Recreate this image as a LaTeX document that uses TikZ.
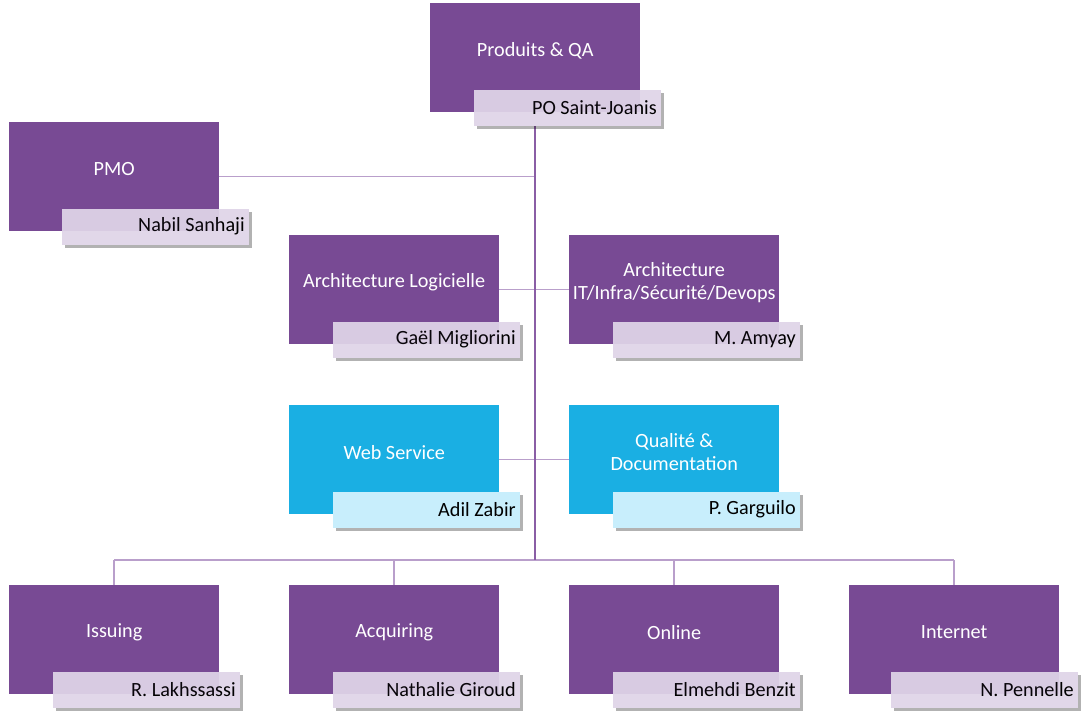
\documentclass[tikz,border=0pt]{standalone}
\usepackage{fontspec}
\setmainfont{Carlito}
\usetikzlibrary{calc,shadows,backgrounds}
\definecolor{pbox}{HTML}{784A94}
\definecolor{pname}{HTML}{E1D7E9}
\definecolor{bbox}{HTML}{1AAFE3}
\definecolor{bname}{HTML}{C8EEFC}
\definecolor{vline}{HTML}{8A5EA5}
\definecolor{hline}{HTML}{B99FCB}
\tikzset{
  boxp/.style={fill=pbox, draw=none, minimum width=210pt, minimum height=109pt, inner sep=0pt},
  boxb/.style={fill=bbox, draw=none, minimum width=210pt, minimum height=109pt, inner sep=0pt},
  title/.style={text=white, align=center, font=\fontsize{20.2}{23}\selectfont, inner sep=0pt},
  personp/.style={fill=pname, draw=none, minimum height=36pt, text width=178pt, align=flush right,
    inner xsep=4.5pt, inner ysep=0pt, font=\fontsize{20.2}{23}\selectfont, text=black,
    drop shadow={shadow xshift=3pt, shadow yshift=-3pt, opacity=0.3, fill=black}},
  personb/.style={personp, fill=bname},
  conn/.style={draw=hline, line width=1.5pt},
  trunk/.style={draw=vline, line width=1.5pt},
}
% #1 name, #2 x, #3 y, #4 title, #5 person, #6 p or b, #7 x offset of person box
\newcommand\orgunit[7]{%
  \node[box#6, anchor=north west] (#1) at (#2,#3) {};
  \node[title] (#1t) at ($(#1.north)+(0,47.5)$) {#4};
  \node[person#6, anchor=north east] (#1p) at ($(#1.south east)+(#7,-23)$) {#5};
}
\begin{document}
\begin{tikzpicture}[x=1pt,y=-1pt]
\useasboundingbox (0,0) rectangle (1086,718);
\orgunit{top}{430}{3}{Produits \& QA}{PO Saint-Joanis}{p}{21}
\orgunit{pmo}{9}{122}{PMO}{Nabil Sanhaji}{p}{30}
\orgunit{archl}{289}{235}{Architecture Logicielle}{Gaël Migliorini}{p}{21}
\orgunit{archi}{569}{235}{Architecture\\IT/Infra/Sécurité/Devops}{M. Amyay}{p}{21}
\orgunit{web}{289}{405}{Web Service}{Adil Zabir}{b}{21}
\orgunit{qual}{569}{405}{Qualité \&\\Documentation}{P. Garguilo}{b}{21}
\orgunit{iss}{9}{585}{Issuing}{R. Lakhssassi}{p}{21}
\orgunit{acq}{289}{585}{Acquiring}{Nathalie Giroud}{p}{21}
\orgunit{onl}{569}{585}{Online}{Elmehdi Benzit}{p}{21}
\orgunit{int}{849}{585}{Internet}{N. Pennelle}{p}{19}
% darker overlap of the name boxes over purple boxes
\foreach \u in {top,pmo,archl,archi,iss,acq,onl,int}{
  \fill[pbox, opacity=0.08] (\u p.north west) rectangle (\u.south east);
}
\coordinate (jp) at (top.south |- pmo.east);
\coordinate (jb) at (top.south |- 0,560);
\coordinate (b1) at (iss.north |- jb);
\coordinate (b4) at (int.north |- jb);
\begin{pgfonlayer}{background}
\draw[conn] (pmo.east) -- (jp);
\draw[conn] (archl.east) -- (archi.west);
\draw[conn] (web.east) -- (qual.west);
\draw[conn] (b1) -- (b4);
\draw[conn] (iss.north) -- (b1);
\draw[conn] (acq.north) -- (acq.north |- jb);
\draw[conn] (onl.north) -- (onl.north |- jb);
\draw[conn] (int.north) -- (b4);
\draw[trunk] (top.south) -- (jb);
\end{pgfonlayer}
\end{tikzpicture}
\end{document}
